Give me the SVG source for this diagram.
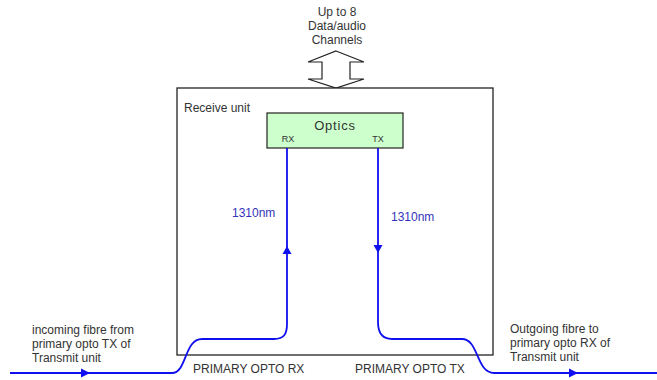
<svg xmlns="http://www.w3.org/2000/svg" width="657" height="380" viewBox="0 0 657 380">
<style>
text{font-family:"Liberation Sans",Arial,sans-serif;fill:#333;}
.t{font-size:12px;}
.nm{font-size:12px;fill:#3333bb;}
.fibre{fill:none;stroke:#1010ee;stroke-width:1.8;}
.ah{fill:#1010ee;stroke:none;}
.box{fill:#fff;stroke:#222;stroke-width:1.3;}
</style>
<rect width="657" height="380" fill="#fff"/>
<g id="channels">
<text class="t" x="337" y="16" text-anchor="middle">Up to 8</text>
<text class="t" x="337" y="30" text-anchor="middle">Data/audio</text>
<text class="t" x="337" y="44" text-anchor="middle">Channels</text>
<polygon points="336,51 364,62 350,62 350,79 364,79 336,88 308,79 322,79 322,62 308,62" fill="#fff" stroke="#222" stroke-width="1.2"/>
</g>
<g id="receive-unit">
<rect class="box" x="177" y="88" width="316" height="267"/>
<text class="t" x="184" y="112">Receive unit</text>
</g>
<g id="optics">
<rect x="267" y="113" width="136" height="35" fill="#ccffcc" stroke="#222" stroke-width="1.2"/>
<text x="335" y="130" text-anchor="middle" font-size="13" letter-spacing="0.8">Optics</text>
<text x="288" y="142" text-anchor="middle" font-size="9">RX</text>
<text x="378" y="142" text-anchor="middle" font-size="9">TX</text>
</g>
<g id="connectors">
<path class="fibre" d="M10,373 H172 C187,373 184,339 202,339 H274 C284,339 287,334 287,324 V148"/>
<path class="fibre" d="M378,148 V322 C378,333 382,339 392,339 H462 C479,339 476,373 494,373 H657"/>
<polygon class="ah" points="90,373 81,368.5 81,377.5"/>
<polygon class="ah" points="578,373 569,368.5 569,377.5"/>
<polygon class="ah" points="287,246 282.5,254 291.5,254"/>
<polygon class="ah" points="378,253 373.5,245 382.5,245"/>
<text class="nm" x="232" y="217">1310nm</text>
<text class="nm" x="391" y="221">1310nm</text>
</g>
<g id="labels">
<text class="t" x="32" y="334">incoming fibre from</text>
<text class="t" x="32" y="348">primary opto TX of</text>
<text class="t" x="32" y="362">Transmit unit</text>
<text class="t" x="510" y="333">Outgoing fibre to</text>
<text class="t" x="510" y="347">primary opto RX of</text>
<text class="t" x="510" y="361">Transmit unit</text>
<text class="t" x="193" y="373">PRIMARY OPTO RX</text>
<text class="t" x="355" y="373">PRIMARY OPTO TX</text>
</g>
</svg>
